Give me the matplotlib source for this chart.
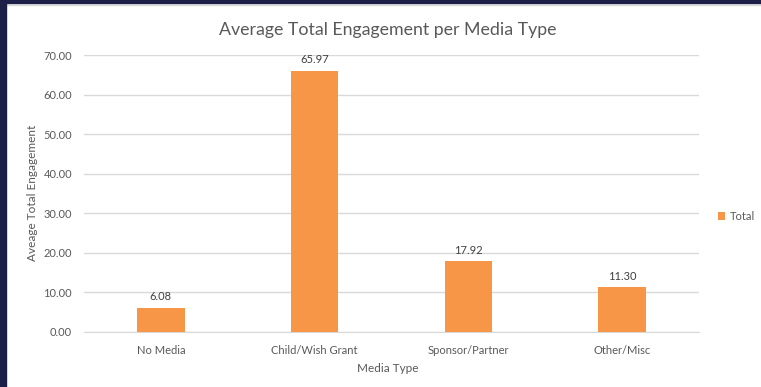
import matplotlib
matplotlib.use("Agg")
import matplotlib.pyplot as plt
from matplotlib.patches import Rectangle
from matplotlib.lines import Line2D

categories = ["No Media", "Child/Wish Grant", "Sponsor/Partner", "Other/Misc"]
values = [6.08, 65.97, 17.92, 11.30]
yticks = [0, 10, 20, 30, 40, 50, 60, 70]
title = "Average Total Engagement per Media Type"
xlabel = "Media Type"
ylabel = "Aveage Total Engagement"
series_name = "Total"

W, H = 761, 387
plt.rcParams['font.family'] = ['Lato', 'DejaVu Sans']
txt = "#595959"
orange = "#F79646"

fig = plt.figure(figsize=(W / 100, H / 100), dpi=100)
fig.patch.set_facecolor("white")

# frame (dark border on left and top)
navy = "#1c2048"
fig.patches.append(Rectangle((0, 0), 6 / W, 1, transform=fig.transFigure, color=navy, zorder=10))
fig.patches.append(Rectangle((0, 1 - 3 / H), 1, 3 / H, transform=fig.transFigure, color=navy, zorder=10))
fig.lines.append(Line2D([6 / W, 1], [1 - 4.5 / H, 1 - 4.5 / H], transform=fig.transFigure, color="#d9d9d9", lw=1, zorder=9))

ax = fig.add_axes([84 / W, 55 / H, 615 / W, 277 / H])
x = list(range(len(categories)))
bars = ax.bar(x, values, width=0.31, color=orange, zorder=3, label=series_name)
ax.set_xlim(-0.5, len(categories) - 0.5)
ax.set_ylim(0, 70)
ax.set_yticks(yticks)
ax.set_yticklabels([f"{v:.2f}" for v in yticks], fontsize=8, color=txt)
ax.set_xticks(x)
ax.set_xticklabels(categories, fontsize=8, color=txt)
ax.tick_params(axis='both', length=0)
ax.tick_params(axis='y', pad=8.6)
ax.tick_params(axis='x', pad=9)
ax.grid(axis='y', color="#d9d9d9", lw=1, zorder=0)
for s in ["top", "right", "left"]:
    ax.spines[s].set_visible(False)
ax.spines["bottom"].set_color("#d9d9d9")

for xi, v in zip(x, values):
    ax.annotate(f"{v:.2f}", (xi, v), xytext=(0, 4), textcoords="offset points",
                ha="center", va="bottom", fontsize=8, color="#404040")

fig.text(388 / W, 1 - 30 / H, title, ha="center", va="center", fontsize=12.8, color=txt)
fig.text(388 / W, 1 - 368 / H, xlabel, ha="center", va="center", fontsize=8.5, color=txt)
fig.text(33 / W, 1 - 193 / H, ylabel, ha="center", va="center", rotation=90, fontsize=8.5, color=txt)

ax.legend(loc="center left", bbox_to_anchor=(712 / W, 1 - 216 / H), bbox_transform=fig.transFigure,
          frameon=False, fontsize=8, handlelength=0.7, handleheight=0.7, handletextpad=0.4,
          labelcolor=txt, borderpad=0)

fig.savefig("out.png", dpi=100)
